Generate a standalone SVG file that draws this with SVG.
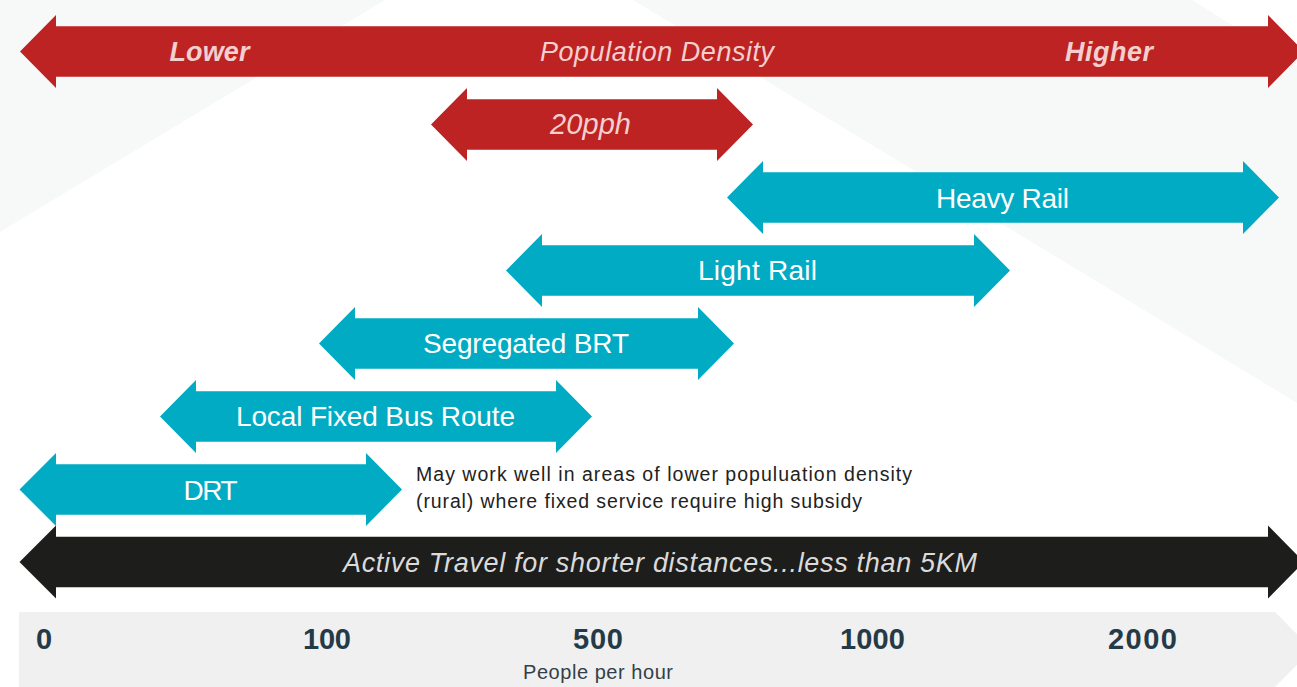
<svg xmlns="http://www.w3.org/2000/svg" width="1297" height="687" viewBox="0 0 1297 687">
<style>
.bg{fill:#f7f8f8}
.red{fill:#bd2322}
.teal{fill:#00abc3}
.blk{fill:#1d1d1b}
.bar{fill:#f0f0f0}
.t{font-family:"Liberation Sans",Arial,sans-serif}
.rt{fill:#f3cfcf;font-size:27px;font-style:italic}
.b{font-weight:bold}
.wt{fill:#ffffff;font-size:28px}
.at{fill:#dadada;font-size:27px;font-style:italic}
.note{fill:#222222;font-size:19.5px}
.ax{fill:#253a47;font-size:29px;font-weight:bold}
.axl{fill:#333f48;font-size:20px}
</style>
<rect width="1297" height="687" fill="#ffffff"/>
<g id="background">
<polygon class="bg" points="0,0 385,0 0,232"/>
<polygon class="bg" points="633,0 1192,0 1297,66 1297,403"/>
</g>
<g id="population-density">
<path class="red" d="M20,51.5 L56,15 L56,26.2 L1268,26.2 L1268,15 L1304,51.5 L1268,88 L1268,76.8 L56,76.8 L56,88 Z"/>
<text class="t rt b" x="169.5" y="61" textLength="80">Lower</text>
<text class="t rt" x="540" y="61" textLength="234">Population Density</text>
<text class="t rt b" x="1065" y="61" textLength="88">Higher</text>
</g>
<g id="pph20">
<path class="red" d="M431,124.5 L467,88 L467,99.2 L717,99.2 L717,88 L753,124.5 L717,161 L717,149.8 L467,149.8 L467,161 Z"/>
<text class="t rt" x="550" y="133.5" style="font-size:29px" textLength="81">20pph</text>
</g>
<g id="heavy-rail">
<path class="teal" d="M727,197.5 L763,161 L763,172.2 L1243,172.2 L1243,161 L1279,197.5 L1243,234 L1243,222.8 L763,222.8 L763,234 Z"/>
<text class="t wt" x="936" y="208" textLength="133">Heavy Rail</text>
</g>
<g id="light-rail">
<path class="teal" d="M506,270.5 L542,234 L542,245.2 L974,245.2 L974,234 L1010,270.5 L974,307 L974,295.8 L542,295.8 L542,307 Z"/>
<text class="t wt" x="698" y="280" textLength="119">Light Rail</text>
</g>
<g id="segregated-brt">
<path class="teal" d="M319,343.5 L355,307 L355,318.2 L698,318.2 L698,307 L734,343.5 L698,380 L698,368.8 L355,368.8 L355,380 Z"/>
<text class="t wt" x="423" y="353" textLength="206">Segregated BRT</text>
</g>
<g id="local-fixed-bus-route">
<path class="teal" d="M160,416.5 L196,380 L196,391.2 L556,391.2 L556,380 L592,416.5 L556,453 L556,441.8 L196,441.8 L196,453 Z"/>
<text class="t wt" x="236" y="426" textLength="279">Local Fixed Bus Route</text>
</g>
<g id="drt">
<path class="teal" d="M19.5,489.5 L56,453 L56,464.2 L366,464.2 L366,453 L402,489.5 L366,526 L366,514.8 L56,514.8 L56,526 Z"/>
<text class="t wt" x="183.5" y="500" textLength="54">DRT</text>
<text class="t note" x="416" y="481" textLength="496">May work well in areas of lower populuation density</text>
<text class="t note" x="416" y="508" textLength="446">(rural) where fixed service require high subsidy</text>
</g>
<g id="active-travel">
<path class="blk" d="M19.5,562 L56,525.5 L56,536.7 L1268,536.7 L1268,525.5 L1304,562 L1268,598.5 L1268,587.3 L56,587.3 L56,598.5 Z"/>
<text class="t at" x="343" y="571.5" textLength="634">Active Travel for shorter distances...less than 5KM</text>
</g>
<g id="axis">
<polygon class="bar" points="19,612 1275,612 1312,649.5 1275,687 19,687"/>
<text class="t ax" x="36" y="649" textLength="17">0</text>
<text class="t ax" x="303" y="649" textLength="48">100</text>
<text class="t ax" x="573" y="649" textLength="50">500</text>
<text class="t ax" x="840" y="649" textLength="65">1000</text>
<text class="t ax" x="1108" y="649" textLength="69">2000</text>
<text class="t axl" x="523" y="679" textLength="150">People per hour</text>
</g>
<g id="connectors"/>
</svg>
